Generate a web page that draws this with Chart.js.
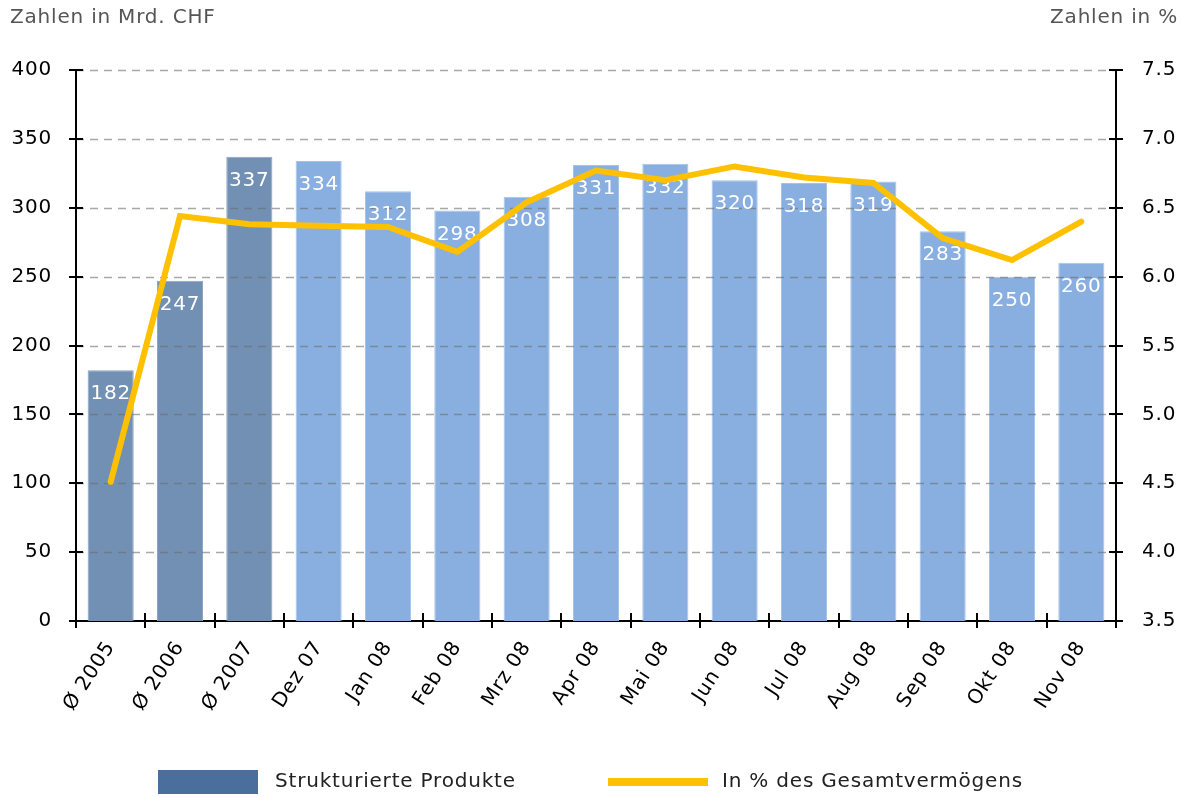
<!DOCTYPE html>
<html lang="de">
<head>
<meta charset="UTF-8">
<script src="https://cdn.jsdelivr.net/npm/chart.js"></script>
<title>Strukturierte Produkte</title>
<style>
    body { margin: 0; background: #fff; }
    canvas { display: block; }
</style>
</head>
<body>
<canvas id="chart" width="1181" height="798"></canvas>
<script>
    // Daten
    const labels = ['Ø 2005', 'Ø 2006', 'Ø 2007', 'Dez 07', 'Jan 08', 'Feb 08', 'Mrz 08', 'Apr 08',
                    'Mai 08', 'Jun 08', 'Jul 08', 'Aug 08', 'Sep 08', 'Okt 08', 'Nov 08'];
    const volumes = [182, 247, 337, 334, 312, 298, 308, 331, 332, 320, 318, 319, 283, 250, 260];
    const shares = [4.51, 6.44, 6.38, 6.37, 6.36, 6.18, 6.54, 6.77, 6.70, 6.80, 6.72, 6.68, 6.28, 6.12, 6.40];
    const averageCount = 3; // first three bars are yearly averages

    const DARK = '#7290b3', LIGHT = '#88afe0', GOLD = '#ffc000';
    const FONT = 'DejaVu Sans';

    Chart.defaults.font.family = FONT;
    Chart.defaults.font.size = 20;
    Chart.defaults.color = '#000';

    // the original text is a bit wider than DejaVu, so space the letters out a little
    const spacing = {
        id: 'spacing',
        beforeLayout(chart) { chart.ctx.letterSpacing = '0.8px'; },
        beforeDraw(chart) { chart.ctx.letterSpacing = '0.8px'; }
    };

    // dashed grid (over the bars), bar labels, crossing tick marks, titles, legend
    const decorations = {
        id: 'decorations',
        afterDatasetDraw(chart, args) {
            if (args.index !== 0) return;
            const ctx = chart.ctx, area = chart.chartArea, y = chart.scales.y;
            ctx.save();
            ctx.strokeStyle = 'rgba(110,110,110,0.6)';
            ctx.lineWidth = 1.5;
            ctx.setLineDash([8, 6]);
            y.ticks.forEach(t => {
                if (t.value === 0) return;
                const py = Math.round(y.getPixelForValue(t.value)) + 0.5;
                ctx.beginPath();
                ctx.moveTo(area.left, py);
                ctx.lineTo(area.right, py);
                ctx.stroke();
            });
            ctx.setLineDash([]);
            ctx.fillStyle = '#fff';
            ctx.font = '20px "' + FONT + '"';
            ctx.textAlign = 'center';
            ctx.textBaseline = 'middle';
            args.meta.data.forEach((bar, i) => {
                ctx.fillText(String(volumes[i]), bar.x, bar.y + 24);
            });
            ctx.restore();
        },
        afterDraw(chart) {
            const ctx = chart.ctx, area = chart.chartArea;
            const { x, y, y1 } = chart.scales;
            ctx.save();
            ctx.strokeStyle = '#000';
            ctx.lineWidth = 2;
            ctx.beginPath();
            y.ticks.forEach(t => {
                const py = Math.round(y.getPixelForValue(t.value));
                ctx.moveTo(area.left - 7, py); ctx.lineTo(area.left + 7, py);
            });
            y1.ticks.forEach(t => {
                const py = Math.round(y1.getPixelForValue(t.value));
                ctx.moveTo(area.right - 7, py); ctx.lineTo(area.right + 7, py);
            });
            const half = (x.getPixelForValue(1) - x.getPixelForValue(0)) / 2;
            for (let i = 0; i <= labels.length; i++) {
                const px = Math.round(x.getPixelForValue(i) - half);
                ctx.moveTo(px, area.bottom - 8); ctx.lineTo(px, area.bottom + 7);
            }
            ctx.stroke();

            // axis titles
            ctx.fillStyle = '#555';
            ctx.font = '20px "' + FONT + '"';
            ctx.textBaseline = 'middle';
            ctx.textAlign = 'left';
            ctx.fillText('Zahlen in Mrd. CHF', 10, 18);
            ctx.textAlign = 'right';
            ctx.fillText('Zahlen in %', 1178, 18);

            // legend
            const ly = 782;
            ctx.fillStyle = '#4b6f9c';
            ctx.fillRect(158, ly - 12, 100, 24);
            ctx.strokeStyle = GOLD;
            ctx.lineWidth = 8;
            ctx.beginPath();
            ctx.moveTo(608, ly); ctx.lineTo(708, ly);
            ctx.stroke();
            ctx.fillStyle = '#222';
            ctx.textAlign = 'left';
            ctx.fillText(chart.data.datasets[0].label, 275, ly);
            ctx.fillText(chart.data.datasets[1].label, 722, ly);
            ctx.restore();
        }
    };

    const ctx = document.getElementById('chart').getContext('2d');
    new Chart(ctx, {
        data: {
            labels: labels,
            datasets: [{
                type: 'bar',
                label: 'Strukturierte Produkte',
                data: volumes,
                backgroundColor: volumes.map((v, i) => i < averageCount ? DARK : LIGHT),
                borderColor: volumes.map((v, i) => i < averageCount ? '#8aa2c2' : '#a5c3ea'),
                borderWidth: 1,
                barPercentage: 0.665,
                categoryPercentage: 1,
                yAxisID: 'y',
                order: 1
            }, {
                type: 'line',
                label: 'In % des Gesamtvermögens',
                data: shares,
                borderColor: GOLD,
                borderWidth: 6,
                borderCapStyle: 'round',
                pointRadius: 0,
                tension: 0,
                yAxisID: 'y1',
                order: 0
            }]
        },
        options: {
            responsive: false,
            animation: false,
            layout: { padding: { top: 70, left: 0, right: 0, bottom: 0 } },
            plugins: {
                legend: { display: false },
                tooltip: { enabled: false }
            },
            scales: {
                x: {
                    grid: { display: false, drawTicks: false },
                    border: { color: '#000', width: 2 },
                    ticks: { minRotation: 57, maxRotation: 57, padding: 16, autoSkip: false },
                    afterFit(scale) { scale.height = 177; }
                },
                y: {
                    position: 'left',
                    min: 0, max: 400,
                    grid: { display: false, drawTicks: false },
                    border: { color: '#000', width: 2 },
                    ticks: { stepSize: 50, padding: 24 },
                    afterFit(scale) { scale.width = 76; }
                },
                y1: {
                    position: 'right',
                    min: 3.5, max: 7.5,
                    grid: { display: false, drawTicks: false },
                    border: { color: '#000', width: 2 },
                    ticks: { stepSize: 0.5, padding: 26, callback: v => v.toFixed(1) },
                    afterFit(scale) { scale.width = 65; }
                }
            }
        },
        plugins: [spacing, decorations]
    });
</script>
</body>
</html>
